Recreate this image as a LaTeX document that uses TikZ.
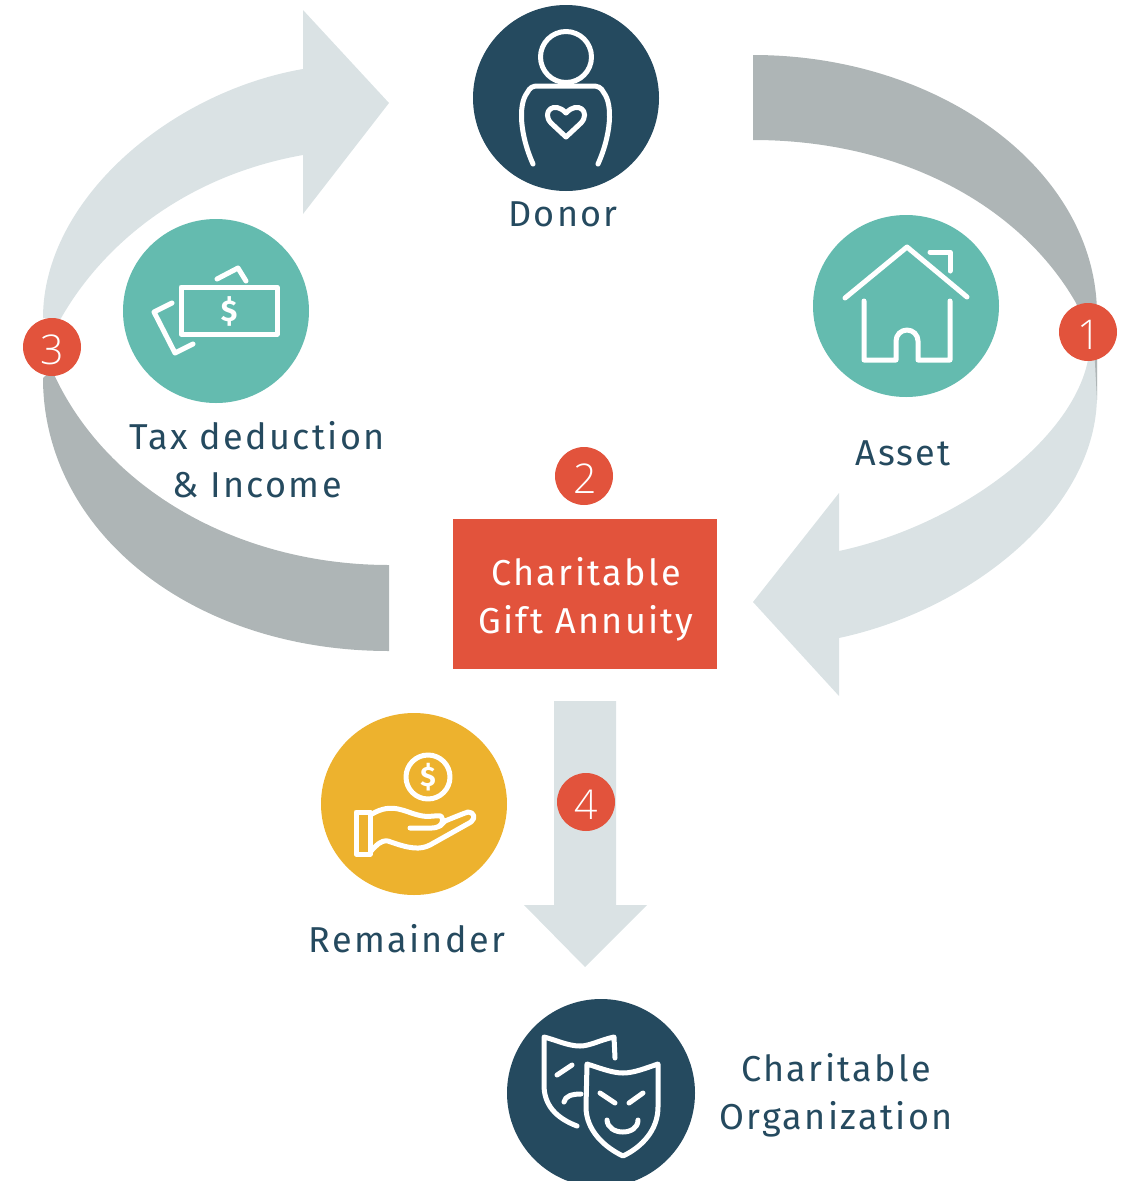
\documentclass[tikz,border=0pt]{standalone}
\usepackage{fontspec}
\usetikzlibrary{shapes.geometric}
\setmainfont[LetterSpace=6.5]{Fira Sans}
\newfontfamily\numfont{Open Sans Light}
\newfontfamily\dollarfont{Fira Sans Bold}
\definecolor{navy}{HTML}{254A5F}
\definecolor{teal2}{HTML}{64BBAF}
\definecolor{gold}{HTML}{EDB22E}
\definecolor{redbox}{HTML}{E2533C}
\definecolor{greyarrow}{HTML}{AEB5B6}
\definecolor{lightarrow}{HTML}{DAE2E4}
\newcommand{\badgedigit}[1]{\raisebox{-17pt}[0pt][0pt]{#1}}
\tikzset{
  x=1pt,y=-1pt,
  disc/.style 2 args={ellipse,inner sep=0pt,minimum width=#1,minimum height=#2},
  badge/.style={circle,fill=redbox,inner sep=0pt,minimum size=58pt,text=white,font=\numfont\fontsize{41}{41}\selectfont},
  caption/.style={text=navy,align=center,font=\fontsize{36}{48}\selectfont,inner sep=0pt},
  icon/.style={draw=white,line width=5pt,line cap=round,line join=round},
  iconsign/.style={text=white,inner sep=0pt},
}
\begin{document}
\begin{tikzpicture}
\useasboundingbox (0,0) rectangle (1125,1181);
% sweeping arrows
\fill[lightarrow] (1097,395) .. controls (1097,510) and (970,610) .. (839,638) -- (839,696) -- (753,602) -- (839,493) -- (839,551) .. controls (960,525) and (1072,440) .. (1088,360) -- (1097,360) -- cycle;
\fill[greyarrow] (753,55) .. controls (940,55) and (1097,170) .. (1097,315) -- (1097,400) -- (1094,345) -- (1076,303) .. controls (1020,205) and (900,140) .. (753,140) -- cycle;
\fill[lightarrow] (43,318) .. controls (43,200) and (170,92) .. (303,69) -- (303,10) -- (389,103) -- (303,214) -- (303,155) .. controls (190,175) and (105,240) .. (60,320) -- cycle;
\fill[greyarrow] (43,378) .. controls (43,530) and (190,651) .. (389,651) -- (389,565) .. controls (240,565) and (105,490) .. (52,370) -- cycle;
\fill[lightarrow] (554,701) -- (616,701) -- (616,905) -- (647,905) -- (585,967) -- (524,905) -- (554,905) -- cycle;
% discs
\node[disc={186pt}{186pt},fill=navy] (donor) at (566,98) {};
\node[disc={186pt}{182pt},fill=teal2] (asset) at (906,306) {};
\node[disc={186pt}{184pt},fill=teal2] (tax) at (216,311) {};
\node[disc={186pt}{182pt},fill=gold] (remainder) at (414,804) {};
\node[disc={188pt}{188pt},fill=navy] (charity) at (601,1093) {};
% donor icon
\draw[icon] (566,57) circle (25.5);
\draw[icon] (533,164) .. controls (520,135) and (518,105) .. (527,93) .. controls (530,87) and (533,86) .. (538,86) -- (592,86) .. controls (598,86) and (601,87) .. (604,93) .. controls (613,105) and (611,135) .. (598,164);
\draw[icon] (566,137) -- (551,123) .. controls (541,112) and (554,100) .. (566,113) .. controls (578,100) and (591,112) .. (581,123) -- cycle;
% house icon
\draw[icon] (845,298) -- (907,247) -- (967,297);
\draw[icon] (930,252) -- (950,252) -- (950,271);
\draw[icon] (864,301) -- (864,360) -- (896,360) -- (896,341) arc[start angle=180,end angle=360,radius=11] -- (918,360) -- (950,360) -- (950,301);
% money icon
\draw[icon] (181,287) rectangle (277,334);
\draw[icon] (217,279) -- (238,268) -- (246,281);
\draw[icon] (172,303) -- (154,312) -- (175,353) -- (193,344);
\node[iconsign,font=\dollarfont\fontsize{30}{30}\selectfont] (taxsign) at (229,311) {\$};
% hand icon
\draw[icon] (428,777) circle (22);
\node[iconsign,font=\dollarfont\fontsize{28}{28}\selectfont] (handsign) at (428,777) {\$};
\draw[icon] (356,812) rectangle (370,854);
\draw[icon] (372,814) .. controls (392,802) and (405,812) .. (418,815) .. controls (428,818) and (435,815) .. (441,816) .. controls (445,820) and (442,828) .. (432,828) -- (410,828);
\draw[icon] (440,826) -- (445,821) .. controls (455,817) and (462,814) .. (468,812) .. controls (474,812) and (476,818) .. (471,822) -- (430,845) .. controls (420,850) and (410,849) .. (388,841) .. controls (380,840) and (376,846) .. (371,851);
% mask icon
\draw[icon] (615,1058) -- (614,1037) .. controls (600,1040) and (590,1046) .. (580,1046) .. controls (568,1046) and (556,1040) .. (544,1037) -- (544,1085) .. controls (544,1105) and (556,1118) .. (577,1126);
\draw[icon] (557,1075) -- (572,1065);
\draw[icon] (564,1102) .. controls (565,1096) and (572,1094) .. (581,1094);
\draw[icon] (587,1064) .. controls (600,1068) and (612,1073) .. (623,1073) .. controls (634,1073) and (646,1068) .. (658,1064) -- (658,1107) .. controls (658,1130) and (642,1147) .. (623,1156) .. controls (604,1147) and (586,1130) .. (586,1107) -- cycle;
\draw[icon] (600,1093) -- (615,1103);
\draw[icon] (643,1093) -- (629,1103);
\draw[icon] (607,1120) .. controls (608,1136) and (638,1136) .. (638,1120);
% annuity box
\node[fill=redbox,minimum width=264pt,minimum height=150pt,inner sep=0pt] (annuity) at (585,594) {};
\node[text=white,align=center,inner sep=0pt,font=\fontsize{36}{48}\selectfont] (annuitytext) at (586,599) {Charitable\\Gift Annuity};
% badges
\node[badge] (b1) at (1088,332) {\hspace{2pt}\badgedigit{1}};
\node[badge] (b2) at (584,476) {\hspace{2pt}\badgedigit{2}};
\node[badge] (b3) at (52,347) {\badgedigit{3}};
\node[badge] (b4) at (586,802) {\hspace{1pt}\badgedigit{4}};
% captions
\node[caption] (ldonor) at (563,214) {Donor};
\node[caption] (lasset) at (903,453) {Asset};
\node[caption] (ltax) at (257,460) {Tax deduction\\\& Income};
\node[caption] (lrem) at (407,939) {Remainder};
\node[caption] (lorg) at (836,1095) {Charitable\\Organization};
\end{tikzpicture}
\end{document}
